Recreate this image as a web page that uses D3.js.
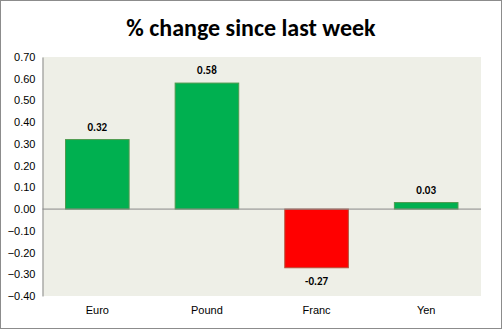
<!DOCTYPE html>
<html><head><meta charset="utf-8">
<script src="https://cdn.jsdelivr.net/npm/d3@7"></script>
<style>
html,body{margin:0;padding:0;background:#fff;}
svg{display:block;font-family:Carlito,Calibri,Lato,"Open Sans",sans-serif;}
</style></head>
<body><svg id="c" width="502" height="329"></svg>
<script>
const categories = ["Euro","Pound","Franc","Yen"];
const values = [0.32, 0.58, -0.27, 0.03];
const valueLabels = ["0.32","0.58","-0.27","0.03"];
const yTicks = [0.70,0.60,0.50,0.40,0.30,0.20,0.10,0.00,-0.10,-0.20,-0.30,-0.40];
const title = "% change since last week";

const svg = d3.select("#c");
svg.append("rect").attr("x",0.5).attr("y",0.5).attr("width",501).attr("height",328)
  .attr("fill","#fff").attr("stroke","#8c8c8c");

const L=42.5, R=481, T=57, B=296;
const x = d3.scaleBand().domain(categories).range([L,R]).paddingInner(0.42).paddingOuter(0.21);
const y = d3.scaleLinear().domain([-0.4,0.7]).range([B,T]);

svg.append("rect").attr("x",L).attr("y",T).attr("width",R-L).attr("height",B-T).attr("fill","#EEEFE7");

svg.append("text").attr("x",251).attr("y",35.5).attr("text-anchor","middle")
  .attr("font-size",24).attr("font-weight","bold").attr("fill","#000").text(title);

const yAxis = d3.axisLeft(y).tickValues(yTicks).tickFormat(d3.format(".2f")).tickSize(0).tickPadding(7);
const gy = svg.append("g").attr("transform",`translate(${L},0)`).call(yAxis);
gy.select(".domain").attr("stroke","#888");
gy.selectAll("text").attr("font-size",11).attr("fill","#000").style("font-family","inherit");

svg.selectAll("rect.bar").data(values).enter().append("rect").attr("class","bar")
  .attr("x",(d,i)=>x(categories[i]))
  .attr("width",x.bandwidth())
  .attr("y",d=>y(Math.max(0,d)))
  .attr("height",d=>Math.abs(y(d)-y(0)))
  .attr("fill",d=>d>=0?"#00B050":"#FF0000")
  .attr("stroke",d=>d>=0?"#4E9A4E":"#B5503A").attr("stroke-width",1);

svg.append("line").attr("x1",L).attr("x2",R).attr("y1",y(0)).attr("y2",y(0)).attr("stroke","#888");

svg.selectAll("text.vl").data(values).enter().append("text").attr("class","vl")
  .attr("x",(d,i)=>x(categories[i])+x.bandwidth()/2)
  .attr("y",d=>d>=0?y(d)-9:y(d)+17)
  .attr("text-anchor","middle").attr("font-size",11).attr("font-weight","bold")
  .text((d,i)=>valueLabels[i]);

const xAxis = d3.axisBottom(x).tickSize(0).tickPadding(0);
const gx = svg.append("g").attr("transform",`translate(0,${B+18})`).call(xAxis);
gx.select(".domain").remove();
gx.selectAll("text").attr("font-size",11).attr("fill","#000").style("font-family","inherit").attr("dy","0");
</script></body></html>
